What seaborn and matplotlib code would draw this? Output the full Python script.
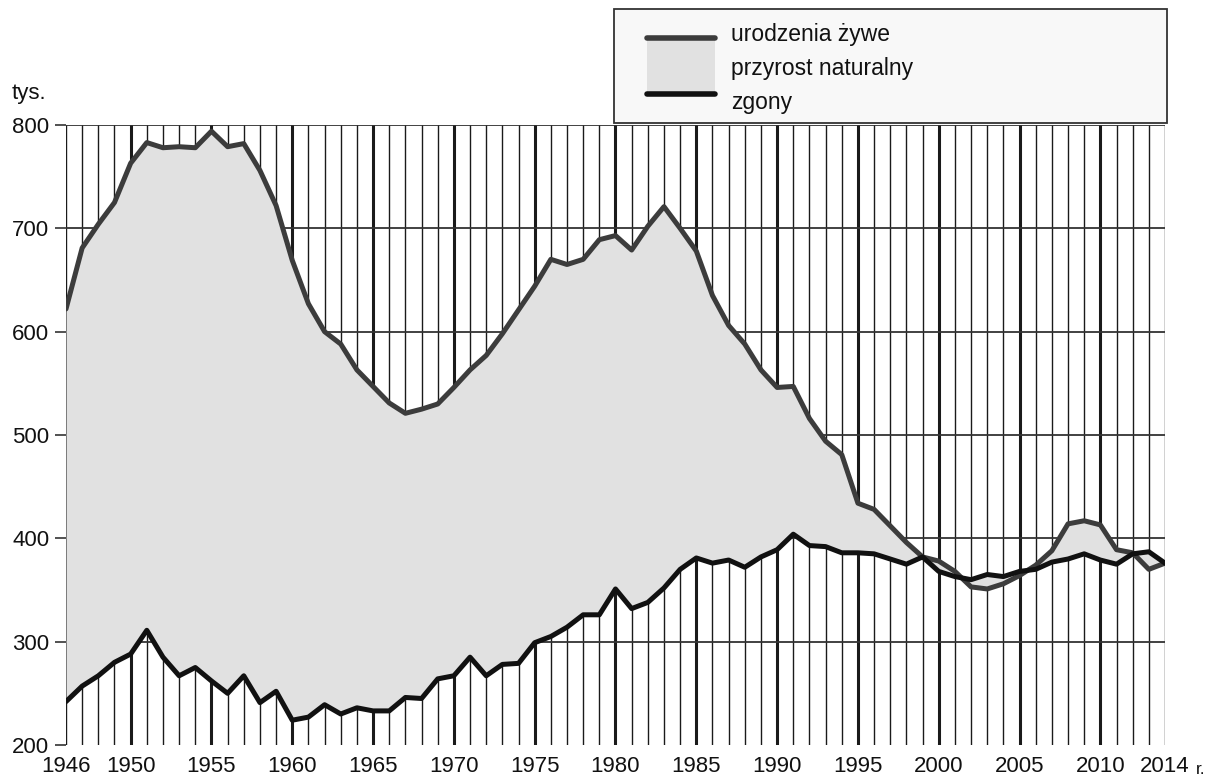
import seaborn as sns
import matplotlib
matplotlib.use('Agg')
from matplotlib import pyplot as plt
from matplotlib.patches import Rectangle
from matplotlib.lines import Line2D
import pandas as pd

# urodzenia zywe i zgony w Polsce (tys.)
years = list(range(1946, 2015))
births = [622, 681, 704, 725, 763, 783, 778, 779, 778, 794, 779, 782, 756, 722, 669,
          627, 600, 588, 563, 547, 531, 521, 525, 530, 546, 563, 577, 598, 621, 644,
          670, 665, 670, 689, 693, 679, 702, 721, 700, 678, 635, 606, 588, 563, 546,
          547, 516, 494, 481, 434, 428, 412, 396, 382, 378, 368, 353, 351, 356, 364,
          374, 388, 414, 417, 413, 389, 386, 370, 376]
deaths = [242, 257, 267, 280, 288, 311, 285, 267, 275, 262, 250, 267, 241, 252, 224,
          227, 239, 230, 236, 233, 233, 246, 245, 264, 267, 285, 267, 278, 279, 299,
          305, 314, 326, 326, 351, 332, 338, 352, 370, 381, 376, 379, 372, 382, 389,
          404, 393, 392, 386, 386, 385, 380, 375, 382, 368, 363, 360, 365, 363, 368,
          370, 377, 380, 385, 379, 375, 385, 387, 376]
tick_years = [1946, 1950, 1955, 1960, 1965, 1970, 1975, 1980, 1985, 1990, 1995, 2000,
              2005, 2010, 2014]
legend_labels = ['urodzenia żywe', 'przyrost naturalny', 'zgony']

df = pd.DataFrame({'rok': years, 'urodzenia': births, 'zgony': deaths})

sns.set_style('white')
plt.rcParams['font.family'] = ['Liberation Sans', 'DejaVu Sans']

W, H = 1223, 784
fig = plt.figure(figsize=(W / 100, H / 100), dpi=100)
ax = fig.add_axes([66 / W, 1 - 745 / H, (1165 - 66) / W, (745 - 125) / H])

# siatka: pionowe linie co rok, grubsze co 5 lat
for y in years:
    lw = 2.2 if y % 5 == 0 else 1.0
    ax.axvline(y, color='#1a1a1a', lw=lw, zorder=1)
for v in range(300, 801, 100):
    ax.axhline(v, color='#333333', lw=1.3, zorder=1)

ax.fill_between(df['rok'], df['urodzenia'], df['zgony'], color='#e1e1e1', lw=0, zorder=2)
sns.lineplot(data=df, x='rok', y='urodzenia', color='#3c3c3c', lw=3.6, ax=ax, zorder=3)
sns.lineplot(data=df, x='rok', y='zgony', color='#111111', lw=3.6, ax=ax, zorder=4)

ax.set_xlim(1946, 2014)
ax.set_ylim(200, 800)
ax.set_xlabel('')
ax.set_ylabel('')
ax.set_xticks(tick_years)
ax.set_yticks(range(200, 801, 100))
ax.tick_params(axis='x', length=0, labelsize=16, pad=8, labelcolor='#111111')
ax.tick_params(axis='y', length=8, width=1.2, color='#333333', labelsize=16, pad=4,
               labelcolor='#111111', left=True)
for s in ['bottom', 'top', 'right', 'left']:
    ax.spines[s].set_visible(False)

fx = lambda px: px / W
fy = lambda py: 1 - py / H
fig.text(fx(12), fy(93), 'tys.', fontsize=16, ha='left', va='center', color='#111111')
fig.text(fx(1196), fy(770), 'r.', fontsize=12.5, ha='left', va='center', color='#111111')

# legenda w ramce
fig.patches.append(Rectangle((fx(614), fy(123)), fx(1167) - fx(614), fy(9) - fy(123),
                             transform=fig.transFigure, facecolor='#f8f8f8',
                             edgecolor='#333333', lw=1.3, zorder=5))
fig.patches.append(Rectangle((fx(647), fy(94)), fx(715) - fx(647), fy(38) - fy(94),
                             transform=fig.transFigure, facecolor='#e1e1e1',
                             edgecolor='none', zorder=6))
fig.lines.append(Line2D([fx(647), fx(715)], [fy(38), fy(38)], transform=fig.transFigure,
                        color='#3c3c3c', lw=4, zorder=7))
fig.lines.append(Line2D([fx(647), fx(715)], [fy(94), fy(94)], transform=fig.transFigure,
                        color='#111111', lw=4, zorder=7))
for lab, py in zip(legend_labels, [34, 68, 102]):
    fig.text(fx(731), fy(py), lab, fontsize=16.5, ha='left', va='center',
             color='#111111', zorder=8)

fig.savefig('out.png', dpi=100)
